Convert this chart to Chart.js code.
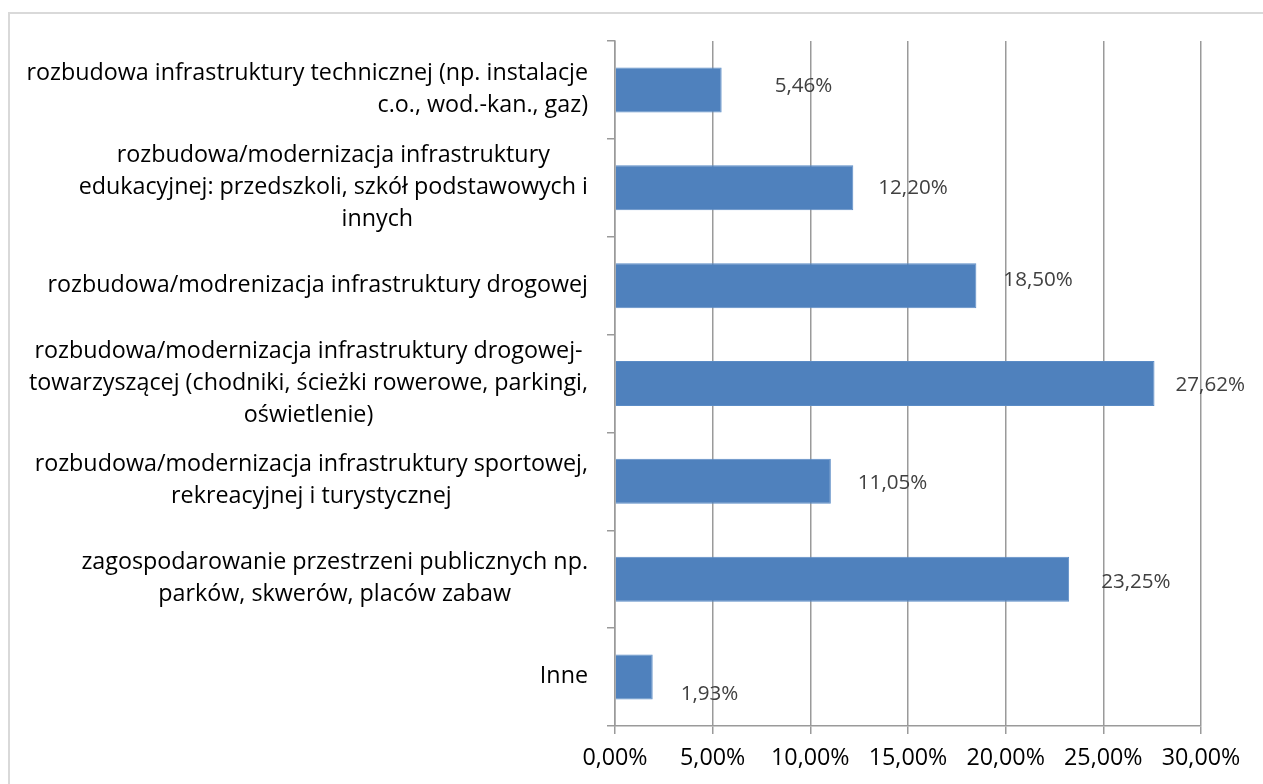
<!DOCTYPE html>
<html>
<head>
<meta charset="utf-8">
<script src="https://cdn.jsdelivr.net/npm/chart.js@4"></script>
<style>
  html, body { margin: 0; padding: 0; background: #fff; }
  #wykres { display: block; }
</style>
</head>
<body>
<canvas id="wykres" width="1263" height="784"></canvas>
<script>
// dane wykresu
const kategorie = [
    ['rozbudowa infrastruktury technicznej (np. instalacje', 'c.o., wod.-kan., gaz)'],
    ['rozbudowa/modernizacja infrastruktury', 'edukacyjnej: przedszkoli, szkół podstawowych i', 'innych'],
    ['rozbudowa/modrenizacja infrastruktury drogowej'],
    ['rozbudowa/modernizacja infrastruktury drogowej-', 'towarzyszącej (chodniki, ścieżki rowerowe, parkingi,', 'oświetlenie)'],
    ['rozbudowa/modernizacja infrastruktury sportowej,', 'rekreacyjnej i turystycznej'],
    ['zagospodarowanie przestrzeni publicznych np.', 'parków, skwerów, placów zabaw'],
    ['Inne']
];
const wartosci = [5.46, 12.20, 18.50, 27.62, 11.05, 23.25, 1.93];
const osX = { min: 0, max: 30, krok: 5 };

const KOLOR_SIATKI = '#9a9a9a';
const FONT = '"Open Sans", Lato, sans-serif';

function formatProcent(v) {
    return v.toFixed(2).replace('.', ',') + '%';
}

// przesunięcia etykiet wartości [dx, dy] - w oryginale są nieco "rozjechane"
const przesuniecia = [[53, -5], [25, -1], [27, -7], [21, 0], [27, 0], [32, 1], [28, 16]];
// wyrównanie bloków etykiet kategorii
const wyrownanie = ['right', 'center', 'center', 'center', 'center', 'center', 'center'];
const przesuniecieLinii = { '1-2': 44 };

const etykietyPlugin = {
    id: 'etykiety',
    beforeDraw(chart) {
        const c = chart.ctx;
        c.save();
        c.strokeStyle = '#d9d9d9';
        c.lineWidth = 2;
        c.strokeRect(9, 13, 2000, 2000);
        c.restore();
    },
    afterDatasetsDraw(chart) {
        const c = chart.ctx;
        const yScale = chart.scales.y;
        const meta = chart.getDatasetMeta(0);
        c.save();

        // etykiety kategorii
        c.font = '23.3px ' + FONT;
        c.fillStyle = '#000';
        const prawo = 588;
        const wys = 32;
        kategorie.forEach((linie, i) => {
            const srodek = yScale.getPixelForValue(i);
            const szer = Math.max(...linie.map(l => c.measureText(l).width));
            const y0 = srodek - (linie.length - 1) * wys / 2;
            linie.forEach((linia, j) => {
                const y = y0 + j * wys + 6;
                const dx = przesuniecieLinii[i + '-' + j] || 0;
                if (wyrownanie[i] === 'right') {
                    c.textAlign = 'right';
                    c.fillText(linia, prawo + dx, y);
                } else {
                    c.textAlign = 'center';
                    c.fillText(linia, prawo - szer / 2 + dx, y);
                }
            });
        });

        // etykiety wartości
        c.font = '20.6px ' + FONT;
        c.fillStyle = '#404040';
        c.textAlign = 'left';
        meta.data.forEach((bar, i) => {
            const [dx, dy] = przesuniecia[i];
            c.fillText(formatProcent(wartosci[i]), bar.x + dx, bar.y + dy + 7.3);
        });
        c.restore();
    }
};

const chart = new Chart(document.getElementById('wykres').getContext('2d'), {
    type: 'bar',
    data: {
        labels: kategorie,
        datasets: [{
            data: wartosci,
            backgroundColor: '#4f81bd',
            borderColor: '#5b8cc6',
            borderWidth: 1,
            categoryPercentage: 1,
            barPercentage: 0.46
        }]
    },
    options: {
        indexAxis: 'y',
        responsive: false,
        animation: false,
        layout: { padding: { top: 41, right: 62, left: 0, bottom: 0 } },
        plugins: {
            legend: { display: false },
            tooltip: { enabled: false }
        },
        scales: {
            x: {
                min: osX.min,
                max: osX.max,
                ticks: {
                    stepSize: osX.krok,
                    callback: v => formatProcent(v),
                    font: { family: FONT, size: 23.3 },
                    color: '#000',
                    padding: 10,
                    maxRotation: 0,
                    autoSkip: false
                },
                grid: { color: KOLOR_SIATKI, lineWidth: 1.5, tickLength: 8 },
                border: { color: KOLOR_SIATKI, width: 1.5 },
                afterFit(scale) { scale.height = 58; }
            },
            y: {
                ticks: { display: false },
                grid: { drawOnChartArea: false, color: KOLOR_SIATKI, lineWidth: 1.5, tickLength: 8, offset: true },
                border: { color: KOLOR_SIATKI, width: 1.5 },
                afterFit(scale) { scale.width = 615; }
            }
        }
    },
    plugins: [etykietyPlugin]
});
</script>
</body>
</html>
